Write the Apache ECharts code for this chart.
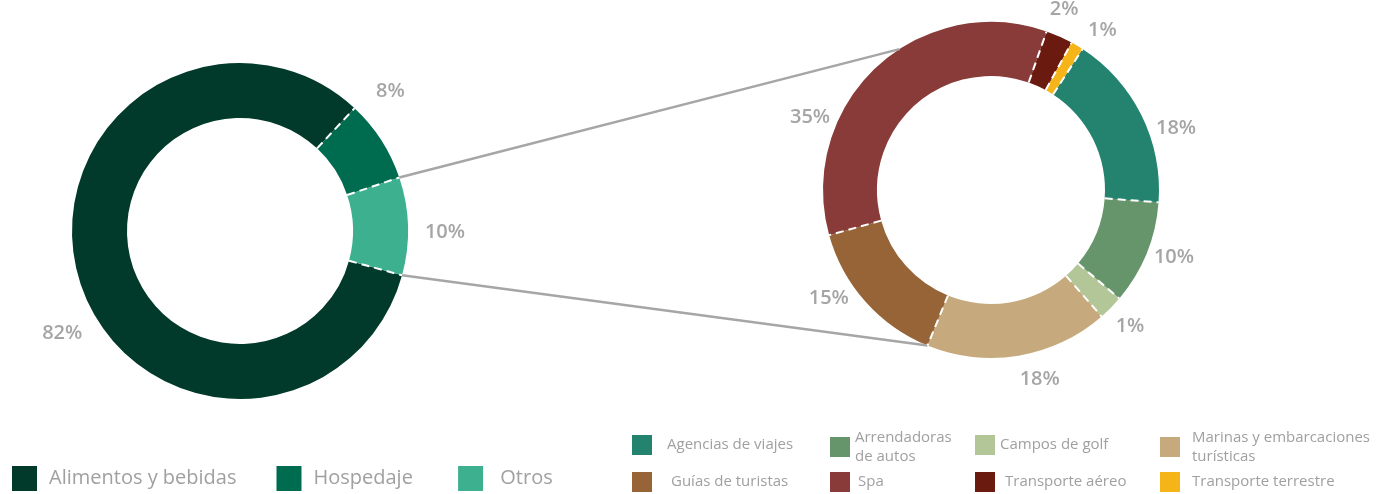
<!DOCTYPE html>
<html>
<head>
<meta charset="utf-8">
<script src="https://cdn.jsdelivr.net/npm/echarts@6/dist/echarts.min.js"></script>
<style>
  html, body { margin: 0; padding: 0; background: #fff; }
  #chart { width: 1385px; height: 494px; }
</style>
</head>
<body>
<div id="chart"></div>
<script>
// pastel principal
const mainNames = ['Alimentos y bebidas', 'Hospedaje', 'Otros']
const mainLegendText = ['Alimentos y bebidas', 'Hospedaje ', ' Otros']
const mainValues = [82.7, 7.9, 9.4]
const mainLabels = ['82%', '8%', '10%']
const mainColors = ['#013a2a', '#006c4f', '#3cb08f']

// desglose de "Otros"
const subNames = ['Agencias de viajes', 'Arrendadoras de autos', 'Campos de golf', 'Marinas y embarcaciones turísticas',
  'Guías de turistas', 'Spa', 'Transporte aéreo', 'Transporte terrestre']
const subLegendText = ['Agencias de viajes', 'Arrendadoras\nde autos', 'Campos de golf', 'Marinas y embarcaciones\nturísticas',
  'Guías de turistas', 'Spa', 'Transporte aéreo', 'Transporte terrestre']
const subValues = [17.0, 10.0, 2.4, 17.6, 14.5, 34.7, 2.6, 1.2]
const subLabels = ['18%', '10%', '1%', '18%', '15%', '35%', '2%', '1%']
const subColors = ['#23836e', '#66956b', '#b2c697', '#c6aa7d', '#976437', '#883b38', '#6b1a10', '#f5b417']

const FONT = "'Open Sans', sans-serif"
const labelColor = '#a5a5a5'

const main = { cx: 240, cy: 231, r0: 113, r: 168, labelR: 205, shift: [14, 10, -2] }
const sub = { cx: 991, cy: 190, r0: 114, r: 168, labelR: 195, shift: [-8, 2, 0, 5, -8, 25, 2, -4] }

const sum = arr => arr.reduce((a, b) => a + b, 0)
main.start = 47 + mainValues[0] / sum(mainValues) * 360
sub.start = 57

// bordes de cada sector (grados, sentido antihorario desde las 3 en punto)
function bounds (pie, values) {
  const total = sum(values)
  const out = [pie.start]
  let acc = 0
  values.forEach(v => {
    acc += v
    out.push(pie.start - acc / total * 360)
  })
  return out
}

function pt (pie, r, deg) {
  const a = deg * Math.PI / 180
  return [pie.cx + r * Math.cos(a), pie.cy - r * Math.sin(a)]
}

const mainB = bounds(main, mainValues)
const subB = bounds(sub, subValues)

function labelLayoutFor (pie, b) {
  return params => {
    const i = params.dataIndex
    const mid = (b[i] + b[i + 1]) / 2 + pie.shift[i]
    const p = pt(pie, pie.labelR, mid)
    return { x: p[0], y: p[1], align: 'center', verticalAlign: 'middle' }
  }
}

function separators (pie, b) {
  return b.slice(0, -1).map(deg => {
    const p1 = pt(pie, pie.r0, deg)
    const p2 = pt(pie, pie.r, deg)
    return {
      type: 'line',
      z: 100,
      shape: { x1: p1[0], y1: p1[1], x2: p2[0], y2: p2[1] },
      style: { stroke: '#ffffff', lineWidth: 2, lineDash: [8, 5] }
    }
  })
}

function connector (from, to) {
  return {
    type: 'line',
    z: 50,
    shape: { x1: from[0], y1: from[1], x2: to[0], y2: to[1] },
    style: { stroke: '#a6a6a6', lineWidth: 2.5 }
  }
}

const graphics = [
  ...separators(main, mainB),
  ...separators(sub, subB),
  connector(pt(main, main.r, mainB[2]), pt(sub, sub.r, 123)),
  connector(pt(main, main.r, mainB[0]), pt(sub, sub.r, subB[4]))
]

function pieSeries (pie, names, values, labels, colors, b) {
  return {
    type: 'pie',
    center: [pie.cx, pie.cy],
    radius: [pie.r0, pie.r],
    startAngle: pie.start,
    clockwise: true,
    avoidLabelOverlap: false,
    silent: true,
    label: {
      show: true,
      position: 'outside',
      color: labelColor,
      fontFamily: FONT,
      fontSize: 20,
      fontWeight: 600,
      formatter: p => labels[p.dataIndex]
    },
    labelLine: { show: false },
    labelLayout: labelLayoutFor(pie, b),
    itemStyle: { borderWidth: 0 },
    data: names.map((n, i) => ({ name: n, value: values[i], itemStyle: { color: colors[i] } }))
  }
}

// leyendas de la derecha, una por elemento
const subLegendPos = [
  [632, 435], [830, 428], [975, 435], [1160, 428],
  [632, 472], [830, 472], [975, 472], [1160, 472]
]
const subLegendPad = [10, 0, 0, 7, 14, 3, 5, 7]

const subLegends = subNames.map((n, i) => ({
  data: [n],
  left: subLegendPos[i][0],
  top: subLegendPos[i][1],
  padding: 0,
  icon: 'rect',
  itemWidth: 20,
  itemHeight: 20,
  selectedMode: false,
  formatter: () => subLegendText[i],
  textStyle: {
    color: '#a0a0a0',
    fontFamily: FONT,
    fontSize: 15,
    lineHeight: 19,
    padding: [0, 0, 0, subLegendPad[i]]
  }
}))

const chart = echarts.init(document.getElementById('chart'), null, { renderer: 'canvas' })

chart.setOption({
  backgroundColor: '#ffffff',
  animation: false,
  legend: [
    {
      data: mainNames,
      left: 12,
      top: 466,
      padding: 0,
      icon: 'rect',
      itemWidth: 25,
      itemHeight: 25,
      itemGap: 40,
      selectedMode: false,
      formatter: name => mainLegendText[mainNames.indexOf(name)],
      textStyle: { color: '#a0a0a0', fontFamily: FONT, fontSize: 20, padding: [0, 0, 0, 7] }
    },
    ...subLegends
  ],
  graphic: graphics,
  series: [
    pieSeries(main, mainNames, mainValues, mainLabels, mainColors, mainB),
    pieSeries(sub, subNames, subValues, subLabels, subColors, subB)
  ]
})
</script>
</body>
</html>
